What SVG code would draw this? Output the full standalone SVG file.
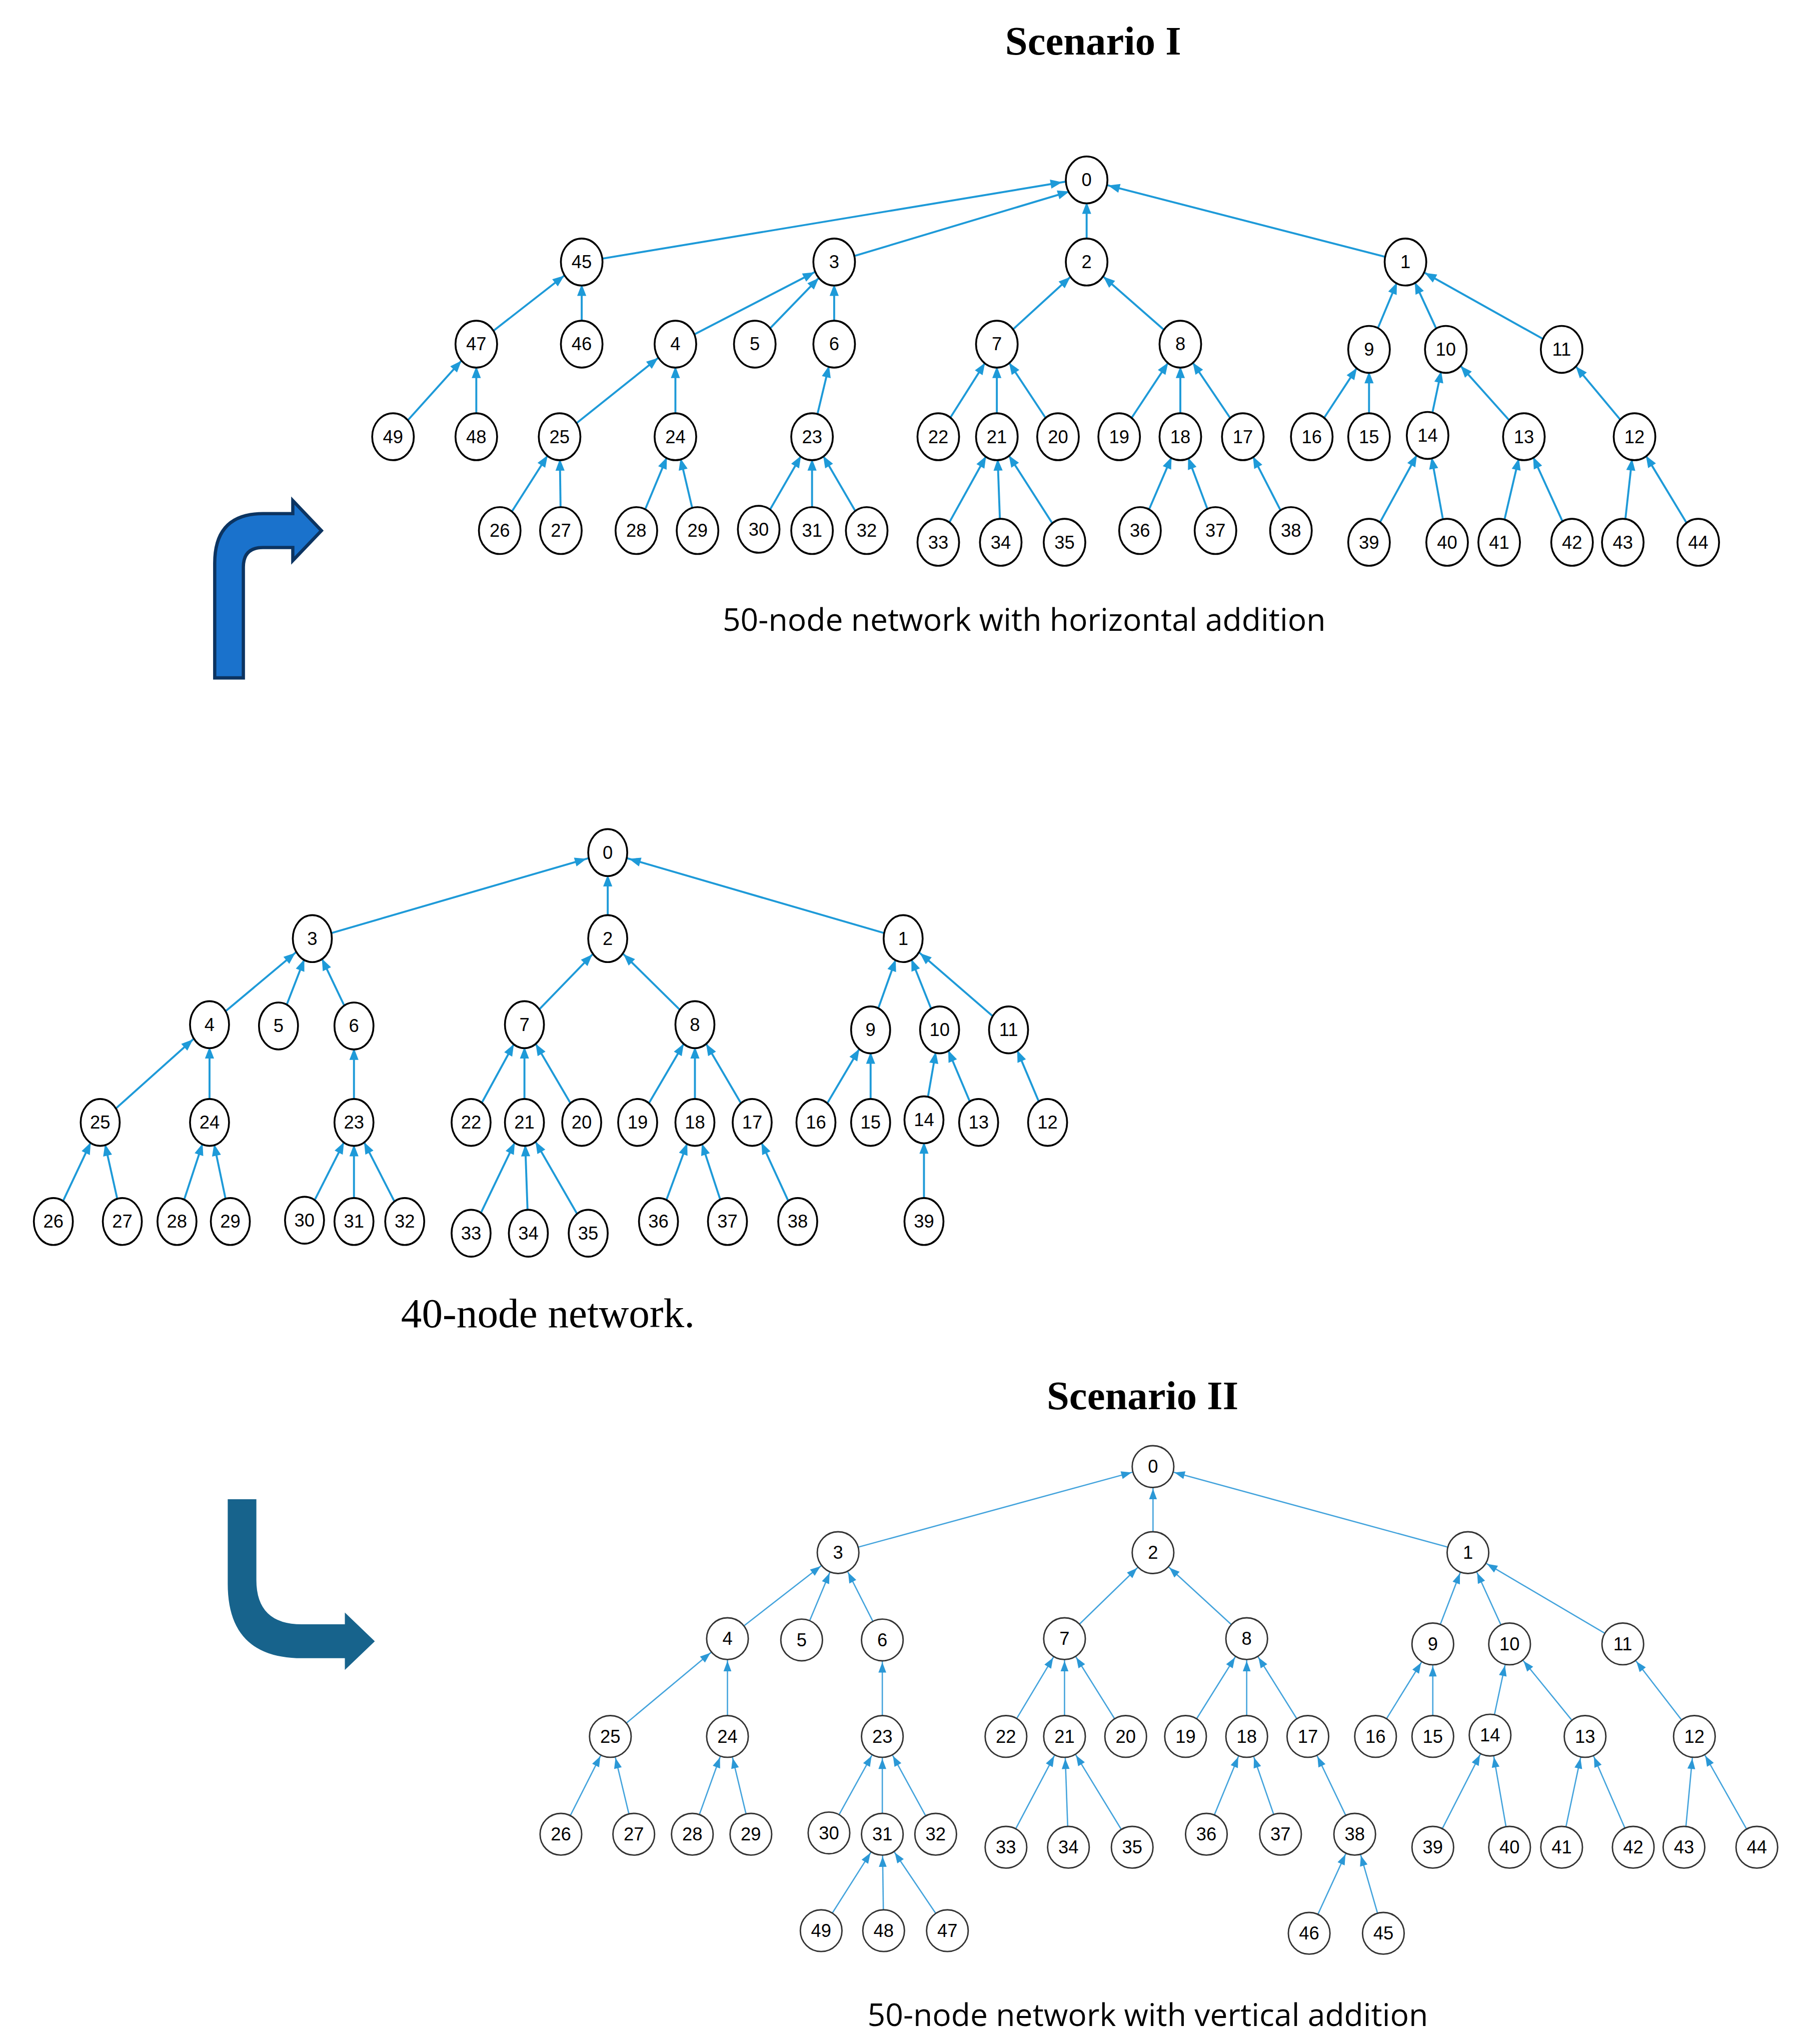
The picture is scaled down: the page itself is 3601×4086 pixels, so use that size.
<svg xmlns="http://www.w3.org/2000/svg" width="3601" height="4086" viewBox="0 0 3601 4086">
<style>
.n ellipse{fill:#fff;stroke:#000;stroke-width:1.4}
.n text{font-family:"Liberation Sans",Arial,sans-serif;font-size:14px;text-anchor:middle;dominant-baseline:central}
.b ellipse{fill:#fff;stroke:#333;stroke-width:1.1}
.e line{stroke:#1e9ad8;stroke-width:1.5;marker-end:url(#a)}
.f line{stroke:#43a3dc;stroke-width:1;marker-end:url(#a2)}
.t{font-family:"Liberation Serif","Times New Roman",serif;text-anchor:middle}
.c{font-family:"Open Sans","Liberation Sans",sans-serif;text-anchor:middle;font-size:24px}
</style>
<defs>
<marker id="a" markerUnits="userSpaceOnUse" markerWidth="30" markerHeight="10" refX="26" refY="3.5" orient="auto" overflow="visible"><path d="M0,0 L9,3.5 L0,7 z" fill="#1e9ad8"/></marker>
<marker id="a2" markerUnits="userSpaceOnUse" markerWidth="30" markerHeight="10" refX="25" refY="3" orient="auto" overflow="visible"><path d="M0,0 L8,3 L0,6 z" fill="#2b98d6"/></marker>
</defs>
<rect width="3601" height="4086" fill="#fff"/>
<g transform="scale(2.602,2.606)">
<text class="t" x="840" y="42" font-size="31" font-weight="bold">Scenario I</text>
<text class="c" x="787" y="484">50-node network with horizontal addition</text>
<text class="t" x="421" y="1018" font-size="32">40-node network.</text>
<text class="t" x="878" y="1081" font-size="31" font-weight="bold">Scenario II</text>
<text class="c" x="882" y="1554">50-node network with vertical addition</text>
<path id="arrow1" d="M165,520 L187,520 L187,435 Q187,420 202,420 L225,420 L225,430 L247,407 L225,384 L225,394 L202,394 Q165,394 165,432 Z" fill="#1a72cc" stroke="#0c3461" stroke-width="2.5"/>
<path id="arrow2" d="M175,1150 L197,1150 L197,1212 Q197,1246 232,1246 L265,1246 L265,1237 L288,1259 L265,1281 L265,1272 L232,1272 Q175,1272 175,1215 Z" fill="#17638c"/>

<g id="edges1" class="e">
<line x1="447" y1="201" x2="833" y2="137"/><line x1="641" y1="201" x2="838" y2="142"/><line x1="835" y1="201" x2="835" y2="138"/><line x1="1080" y1="201" x2="835" y2="138"/>
<line x1="366" y1="264" x2="447" y2="201"/><line x1="447" y1="264" x2="447" y2="201"/>
<line x1="302" y1="335" x2="366" y2="264"/><line x1="366" y1="335" x2="366" y2="264"/>
<line x1="519" y1="264" x2="641" y2="201"/><line x1="580" y1="264" x2="641" y2="201"/><line x1="641" y1="264" x2="641" y2="201"/>
<line x1="430" y1="335" x2="519" y2="264"/><line x1="519" y1="335" x2="519" y2="264"/><line x1="624" y1="335" x2="641" y2="264"/>
<line x1="384" y1="407" x2="430" y2="335"/><line x1="431" y1="407" x2="430" y2="335"/>
<line x1="489" y1="407" x2="519" y2="335"/><line x1="536" y1="407" x2="519" y2="335"/>
<line x1="583" y1="406" x2="624" y2="335"/><line x1="624" y1="407" x2="624" y2="335"/><line x1="666" y1="407" x2="624" y2="335"/>
<line x1="766" y1="264" x2="835" y2="201"/><line x1="907" y1="264" x2="835" y2="201"/>
<line x1="721" y1="335" x2="766" y2="264"/><line x1="766" y1="335" x2="766" y2="264"/><line x1="813" y1="335" x2="766" y2="264"/>
<line x1="721" y1="416" x2="766" y2="335"/><line x1="769" y1="416" x2="766" y2="335"/><line x1="818" y1="416" x2="766" y2="335"/>
<line x1="860" y1="335" x2="907" y2="264"/><line x1="907" y1="335" x2="907" y2="264"/><line x1="955" y1="335" x2="907" y2="264"/>
<line x1="876" y1="407" x2="907" y2="335"/><line x1="934" y1="407" x2="907" y2="335"/><line x1="992" y1="407" x2="955" y2="335"/>
<line x1="1052" y1="268" x2="1080" y2="201"/><line x1="1111" y1="268" x2="1080" y2="201"/><line x1="1200" y1="268" x2="1080" y2="201"/>
<line x1="1008" y1="335" x2="1052" y2="268"/><line x1="1052" y1="335" x2="1052" y2="268"/>
<line x1="1097" y1="334" x2="1111" y2="268"/><line x1="1171" y1="335" x2="1111" y2="268"/>
<line x1="1052" y1="416" x2="1097" y2="334"/><line x1="1112" y1="416" x2="1097" y2="334"/>
<line x1="1152" y1="416" x2="1171" y2="335"/><line x1="1208" y1="416" x2="1171" y2="335"/>
<line x1="1256" y1="335" x2="1200" y2="268"/>
<line x1="1247" y1="416" x2="1256" y2="335"/><line x1="1305" y1="416" x2="1256" y2="335"/>
</g>
<g id="edges2" class="e">
<line x1="240" y1="720" x2="467" y2="654"/><line x1="467" y1="720" x2="467" y2="654"/><line x1="694" y1="720" x2="467" y2="654"/>
<line x1="161" y1="786" x2="240" y2="720"/><line x1="214" y1="787" x2="240" y2="720"/><line x1="272" y1="787" x2="240" y2="720"/>
<line x1="77" y1="861" x2="161" y2="786"/><line x1="161" y1="861" x2="161" y2="786"/><line x1="272" y1="861" x2="272" y2="787"/>
<line x1="41" y1="937" x2="77" y2="861"/><line x1="94" y1="937" x2="77" y2="861"/>
<line x1="136" y1="937" x2="161" y2="861"/><line x1="177" y1="937" x2="161" y2="861"/>
<line x1="234" y1="936" x2="272" y2="861"/><line x1="272" y1="937" x2="272" y2="861"/><line x1="311" y1="937" x2="272" y2="861"/>
<line x1="403" y1="786" x2="467" y2="720"/><line x1="534" y1="786" x2="467" y2="720"/>
<line x1="362" y1="861" x2="403" y2="786"/><line x1="403" y1="861" x2="403" y2="786"/><line x1="447" y1="861" x2="403" y2="786"/>
<line x1="362" y1="946" x2="403" y2="861"/><line x1="406" y1="946" x2="403" y2="861"/><line x1="452" y1="946" x2="403" y2="861"/>
<line x1="490" y1="861" x2="534" y2="786"/><line x1="534" y1="861" x2="534" y2="786"/><line x1="578" y1="861" x2="534" y2="786"/>
<line x1="506" y1="937" x2="534" y2="861"/><line x1="559" y1="937" x2="534" y2="861"/><line x1="613" y1="937" x2="578" y2="861"/>
<line x1="669" y1="790" x2="694" y2="720"/><line x1="722" y1="790" x2="694" y2="720"/><line x1="775" y1="790" x2="694" y2="720"/>
<line x1="627" y1="861" x2="669" y2="790"/><line x1="669" y1="861" x2="669" y2="790"/>
<line x1="710" y1="859" x2="722" y2="790"/><line x1="752" y1="861" x2="722" y2="790"/>
<line x1="710" y1="937" x2="710" y2="859"/><line x1="805" y1="861" x2="775" y2="790"/>
</g>
<g id="edges3" class="f">
<line x1="644" y1="1191" x2="886" y2="1125"/><line x1="886" y1="1191" x2="886" y2="1125"/><line x1="1128" y1="1191" x2="886" y2="1125"/>
<line x1="559" y1="1257" x2="644" y2="1191"/><line x1="616" y1="1258" x2="644" y2="1191"/><line x1="678" y1="1258" x2="644" y2="1191"/>
<line x1="469" y1="1332" x2="559" y2="1257"/><line x1="559" y1="1332" x2="559" y2="1257"/><line x1="678" y1="1332" x2="678" y2="1258"/>
<line x1="431" y1="1407" x2="469" y2="1332"/><line x1="487" y1="1407" x2="469" y2="1332"/>
<line x1="532" y1="1407" x2="559" y2="1332"/><line x1="577" y1="1407" x2="559" y2="1332"/>
<line x1="637" y1="1406" x2="678" y2="1332"/><line x1="678" y1="1407" x2="678" y2="1332"/><line x1="719" y1="1407" x2="678" y2="1332"/>
<line x1="631" y1="1481" x2="678" y2="1407"/><line x1="679" y1="1481" x2="678" y2="1407"/><line x1="728" y1="1481" x2="678" y2="1407"/>
<line x1="818" y1="1257" x2="886" y2="1191"/><line x1="958" y1="1257" x2="886" y2="1191"/>
<line x1="773" y1="1332" x2="818" y2="1257"/><line x1="818" y1="1332" x2="818" y2="1257"/><line x1="865" y1="1332" x2="818" y2="1257"/>
<line x1="773" y1="1417" x2="818" y2="1332"/><line x1="821" y1="1417" x2="818" y2="1332"/><line x1="870" y1="1417" x2="818" y2="1332"/>
<line x1="911" y1="1332" x2="958" y2="1257"/><line x1="958" y1="1332" x2="958" y2="1257"/><line x1="1005" y1="1332" x2="958" y2="1257"/>
<line x1="927" y1="1407" x2="958" y2="1332"/><line x1="984" y1="1407" x2="958" y2="1332"/><line x1="1041" y1="1407" x2="1005" y2="1332"/>
<line x1="1006" y1="1483" x2="1041" y2="1407"/><line x1="1063" y1="1483" x2="1041" y2="1407"/>
<line x1="1101" y1="1261" x2="1128" y2="1191"/><line x1="1160" y1="1261" x2="1128" y2="1191"/><line x1="1247" y1="1261" x2="1128" y2="1191"/>
<line x1="1057" y1="1332" x2="1101" y2="1261"/><line x1="1101" y1="1332" x2="1101" y2="1261"/>
<line x1="1145" y1="1331" x2="1160" y2="1261"/><line x1="1218" y1="1332" x2="1160" y2="1261"/>
<line x1="1101" y1="1417" x2="1145" y2="1331"/><line x1="1160" y1="1417" x2="1145" y2="1331"/>
<line x1="1200" y1="1417" x2="1218" y2="1332"/><line x1="1255" y1="1417" x2="1218" y2="1332"/>
<line x1="1302" y1="1332" x2="1247" y2="1261"/>
<line x1="1294" y1="1417" x2="1302" y2="1332"/><line x1="1350" y1="1417" x2="1302" y2="1332"/>
</g>

<g id="tree1" class="n">
<g id="s1n0"><ellipse cx="835" cy="138" rx="16" ry="18"/><text x="835" y="138">0</text></g>
<g id="s1n45"><ellipse cx="447" cy="201" rx="16" ry="18"/><text x="447" y="201">45</text></g>
<g id="s1n3"><ellipse cx="641" cy="201" rx="16" ry="18"/><text x="641" y="201">3</text></g>
<g id="s1n2"><ellipse cx="835" cy="201" rx="16" ry="18"/><text x="835" y="201">2</text></g>
<g id="s1n1"><ellipse cx="1080" cy="201" rx="16" ry="18"/><text x="1080" y="201">1</text></g>
<g id="s1n47"><ellipse cx="366" cy="264" rx="16" ry="18"/><text x="366" y="264">47</text></g>
<g id="s1n46"><ellipse cx="447" cy="264" rx="16" ry="18"/><text x="447" y="264">46</text></g>
<g id="s1n4"><ellipse cx="519" cy="264" rx="16" ry="18"/><text x="519" y="264">4</text></g>
<g id="s1n5"><ellipse cx="580" cy="264" rx="16" ry="18"/><text x="580" y="264">5</text></g>
<g id="s1n6"><ellipse cx="641" cy="264" rx="16" ry="18"/><text x="641" y="264">6</text></g>
<g id="s1n7"><ellipse cx="766" cy="264" rx="16" ry="18"/><text x="766" y="264">7</text></g>
<g id="s1n8"><ellipse cx="907" cy="264" rx="16" ry="18"/><text x="907" y="264">8</text></g>
<g id="s1n9"><ellipse cx="1052" cy="268" rx="16" ry="18"/><text x="1052" y="268">9</text></g>
<g id="s1n10"><ellipse cx="1111" cy="268" rx="16" ry="18"/><text x="1111" y="268">10</text></g>
<g id="s1n11"><ellipse cx="1200" cy="268" rx="16" ry="18"/><text x="1200" y="268">11</text></g>
<g id="s1n49"><ellipse cx="302" cy="335" rx="16" ry="18"/><text x="302" y="335">49</text></g>
<g id="s1n48"><ellipse cx="366" cy="335" rx="16" ry="18"/><text x="366" y="335">48</text></g>
<g id="s1n25"><ellipse cx="430" cy="335" rx="16" ry="18"/><text x="430" y="335">25</text></g>
<g id="s1n24"><ellipse cx="519" cy="335" rx="16" ry="18"/><text x="519" y="335">24</text></g>
<g id="s1n23"><ellipse cx="624" cy="335" rx="16" ry="18"/><text x="624" y="335">23</text></g>
<g id="s1n22"><ellipse cx="721" cy="335" rx="16" ry="18"/><text x="721" y="335">22</text></g>
<g id="s1n21"><ellipse cx="766" cy="335" rx="16" ry="18"/><text x="766" y="335">21</text></g>
<g id="s1n20"><ellipse cx="813" cy="335" rx="16" ry="18"/><text x="813" y="335">20</text></g>
<g id="s1n19"><ellipse cx="860" cy="335" rx="16" ry="18"/><text x="860" y="335">19</text></g>
<g id="s1n18"><ellipse cx="907" cy="335" rx="16" ry="18"/><text x="907" y="335">18</text></g>
<g id="s1n17"><ellipse cx="955" cy="335" rx="16" ry="18"/><text x="955" y="335">17</text></g>
<g id="s1n16"><ellipse cx="1008" cy="335" rx="16" ry="18"/><text x="1008" y="335">16</text></g>
<g id="s1n15"><ellipse cx="1052" cy="335" rx="16" ry="18"/><text x="1052" y="335">15</text></g>
<g id="s1n14"><ellipse cx="1097" cy="334" rx="16" ry="18"/><text x="1097" y="334">14</text></g>
<g id="s1n13"><ellipse cx="1171" cy="335" rx="16" ry="18"/><text x="1171" y="335">13</text></g>
<g id="s1n12"><ellipse cx="1256" cy="335" rx="16" ry="18"/><text x="1256" y="335">12</text></g>
<g id="s1n26"><ellipse cx="384" cy="407" rx="16" ry="18"/><text x="384" y="407">26</text></g>
<g id="s1n27"><ellipse cx="431" cy="407" rx="16" ry="18"/><text x="431" y="407">27</text></g>
<g id="s1n28"><ellipse cx="489" cy="407" rx="16" ry="18"/><text x="489" y="407">28</text></g>
<g id="s1n29"><ellipse cx="536" cy="407" rx="16" ry="18"/><text x="536" y="407">29</text></g>
<g id="s1n30"><ellipse cx="583" cy="406" rx="16" ry="18"/><text x="583" y="406">30</text></g>
<g id="s1n31"><ellipse cx="624" cy="407" rx="16" ry="18"/><text x="624" y="407">31</text></g>
<g id="s1n32"><ellipse cx="666" cy="407" rx="16" ry="18"/><text x="666" y="407">32</text></g>
<g id="s1n33"><ellipse cx="721" cy="416" rx="16" ry="18"/><text x="721" y="416">33</text></g>
<g id="s1n34"><ellipse cx="769" cy="416" rx="16" ry="18"/><text x="769" y="416">34</text></g>
<g id="s1n35"><ellipse cx="818" cy="416" rx="16" ry="18"/><text x="818" y="416">35</text></g>
<g id="s1n36"><ellipse cx="876" cy="407" rx="16" ry="18"/><text x="876" y="407">36</text></g>
<g id="s1n37"><ellipse cx="934" cy="407" rx="16" ry="18"/><text x="934" y="407">37</text></g>
<g id="s1n38"><ellipse cx="992" cy="407" rx="16" ry="18"/><text x="992" y="407">38</text></g>
<g id="s1n39"><ellipse cx="1052" cy="416" rx="16" ry="18"/><text x="1052" y="416">39</text></g>
<g id="s1n40"><ellipse cx="1112" cy="416" rx="16" ry="18"/><text x="1112" y="416">40</text></g>
<g id="s1n41"><ellipse cx="1152" cy="416" rx="16" ry="18"/><text x="1152" y="416">41</text></g>
<g id="s1n42"><ellipse cx="1208" cy="416" rx="16" ry="18"/><text x="1208" y="416">42</text></g>
<g id="s1n43"><ellipse cx="1247" cy="416" rx="16" ry="18"/><text x="1247" y="416">43</text></g>
<g id="s1n44"><ellipse cx="1305" cy="416" rx="16" ry="18"/><text x="1305" y="416">44</text></g>
</g>

<g id="tree2" class="n">
<g id="m0"><ellipse cx="467" cy="654" rx="15" ry="18"/><text x="467" y="654">0</text></g>
<g id="m3"><ellipse cx="240" cy="720" rx="15" ry="18"/><text x="240" y="720">3</text></g>
<g id="m2"><ellipse cx="467" cy="720" rx="15" ry="18"/><text x="467" y="720">2</text></g>
<g id="m1"><ellipse cx="694" cy="720" rx="15" ry="18"/><text x="694" y="720">1</text></g>
<g id="m4"><ellipse cx="161" cy="786" rx="15" ry="18"/><text x="161" y="786">4</text></g>
<g id="m5"><ellipse cx="214" cy="787" rx="15" ry="18"/><text x="214" y="787">5</text></g>
<g id="m6"><ellipse cx="272" cy="787" rx="15" ry="18"/><text x="272" y="787">6</text></g>
<g id="m7"><ellipse cx="403" cy="786" rx="15" ry="18"/><text x="403" y="786">7</text></g>
<g id="m8"><ellipse cx="534" cy="786" rx="15" ry="18"/><text x="534" y="786">8</text></g>
<g id="m9"><ellipse cx="669" cy="790" rx="15" ry="18"/><text x="669" y="790">9</text></g>
<g id="m10"><ellipse cx="722" cy="790" rx="15" ry="18"/><text x="722" y="790">10</text></g>
<g id="m11"><ellipse cx="775" cy="790" rx="15" ry="18"/><text x="775" y="790">11</text></g>
<g id="m25"><ellipse cx="77" cy="861" rx="15" ry="18"/><text x="77" y="861">25</text></g>
<g id="m24"><ellipse cx="161" cy="861" rx="15" ry="18"/><text x="161" y="861">24</text></g>
<g id="m23"><ellipse cx="272" cy="861" rx="15" ry="18"/><text x="272" y="861">23</text></g>
<g id="m22"><ellipse cx="362" cy="861" rx="15" ry="18"/><text x="362" y="861">22</text></g>
<g id="m21"><ellipse cx="403" cy="861" rx="15" ry="18"/><text x="403" y="861">21</text></g>
<g id="m20"><ellipse cx="447" cy="861" rx="15" ry="18"/><text x="447" y="861">20</text></g>
<g id="m19"><ellipse cx="490" cy="861" rx="15" ry="18"/><text x="490" y="861">19</text></g>
<g id="m18"><ellipse cx="534" cy="861" rx="15" ry="18"/><text x="534" y="861">18</text></g>
<g id="m17"><ellipse cx="578" cy="861" rx="15" ry="18"/><text x="578" y="861">17</text></g>
<g id="m16"><ellipse cx="627" cy="861" rx="15" ry="18"/><text x="627" y="861">16</text></g>
<g id="m15"><ellipse cx="669" cy="861" rx="15" ry="18"/><text x="669" y="861">15</text></g>
<g id="m14"><ellipse cx="710" cy="859" rx="15" ry="18"/><text x="710" y="859">14</text></g>
<g id="m13"><ellipse cx="752" cy="861" rx="15" ry="18"/><text x="752" y="861">13</text></g>
<g id="m12"><ellipse cx="805" cy="861" rx="15" ry="18"/><text x="805" y="861">12</text></g>
<g id="m26"><ellipse cx="41" cy="937" rx="15" ry="18"/><text x="41" y="937">26</text></g>
<g id="m27"><ellipse cx="94" cy="937" rx="15" ry="18"/><text x="94" y="937">27</text></g>
<g id="m28"><ellipse cx="136" cy="937" rx="15" ry="18"/><text x="136" y="937">28</text></g>
<g id="m29"><ellipse cx="177" cy="937" rx="15" ry="18"/><text x="177" y="937">29</text></g>
<g id="m30"><ellipse cx="234" cy="936" rx="15" ry="18"/><text x="234" y="936">30</text></g>
<g id="m31"><ellipse cx="272" cy="937" rx="15" ry="18"/><text x="272" y="937">31</text></g>
<g id="m32"><ellipse cx="311" cy="937" rx="15" ry="18"/><text x="311" y="937">32</text></g>
<g id="m33"><ellipse cx="362" cy="946" rx="15" ry="18"/><text x="362" y="946">33</text></g>
<g id="m34"><ellipse cx="406" cy="946" rx="15" ry="18"/><text x="406" y="946">34</text></g>
<g id="m35"><ellipse cx="452" cy="946" rx="15" ry="18"/><text x="452" y="946">35</text></g>
<g id="m36"><ellipse cx="506" cy="937" rx="15" ry="18"/><text x="506" y="937">36</text></g>
<g id="m37"><ellipse cx="559" cy="937" rx="15" ry="18"/><text x="559" y="937">37</text></g>
<g id="m38"><ellipse cx="613" cy="937" rx="15" ry="18"/><text x="613" y="937">38</text></g>
<g id="m39"><ellipse cx="710" cy="937" rx="15" ry="18"/><text x="710" y="937">39</text></g>
</g>

<g id="tree3" class="n b">
<g id="v0"><ellipse cx="886" cy="1125" rx="16" ry="16"/><text x="886" y="1125">0</text></g>
<g id="v3"><ellipse cx="644" cy="1191" rx="16" ry="16"/><text x="644" y="1191">3</text></g>
<g id="v2"><ellipse cx="886" cy="1191" rx="16" ry="16"/><text x="886" y="1191">2</text></g>
<g id="v1"><ellipse cx="1128" cy="1191" rx="16" ry="16"/><text x="1128" y="1191">1</text></g>
<g id="v4"><ellipse cx="559" cy="1257" rx="16" ry="16"/><text x="559" y="1257">4</text></g>
<g id="v5"><ellipse cx="616" cy="1258" rx="16" ry="16"/><text x="616" y="1258">5</text></g>
<g id="v6"><ellipse cx="678" cy="1258" rx="16" ry="16"/><text x="678" y="1258">6</text></g>
<g id="v7"><ellipse cx="818" cy="1257" rx="16" ry="16"/><text x="818" y="1257">7</text></g>
<g id="v8"><ellipse cx="958" cy="1257" rx="16" ry="16"/><text x="958" y="1257">8</text></g>
<g id="v9"><ellipse cx="1101" cy="1261" rx="16" ry="16"/><text x="1101" y="1261">9</text></g>
<g id="v10"><ellipse cx="1160" cy="1261" rx="16" ry="16"/><text x="1160" y="1261">10</text></g>
<g id="v11"><ellipse cx="1247" cy="1261" rx="16" ry="16"/><text x="1247" y="1261">11</text></g>
<g id="v25"><ellipse cx="469" cy="1332" rx="16" ry="16"/><text x="469" y="1332">25</text></g>
<g id="v24"><ellipse cx="559" cy="1332" rx="16" ry="16"/><text x="559" y="1332">24</text></g>
<g id="v23"><ellipse cx="678" cy="1332" rx="16" ry="16"/><text x="678" y="1332">23</text></g>
<g id="v22"><ellipse cx="773" cy="1332" rx="16" ry="16"/><text x="773" y="1332">22</text></g>
<g id="v21"><ellipse cx="818" cy="1332" rx="16" ry="16"/><text x="818" y="1332">21</text></g>
<g id="v20"><ellipse cx="865" cy="1332" rx="16" ry="16"/><text x="865" y="1332">20</text></g>
<g id="v19"><ellipse cx="911" cy="1332" rx="16" ry="16"/><text x="911" y="1332">19</text></g>
<g id="v18"><ellipse cx="958" cy="1332" rx="16" ry="16"/><text x="958" y="1332">18</text></g>
<g id="v17"><ellipse cx="1005" cy="1332" rx="16" ry="16"/><text x="1005" y="1332">17</text></g>
<g id="v16"><ellipse cx="1057" cy="1332" rx="16" ry="16"/><text x="1057" y="1332">16</text></g>
<g id="v15"><ellipse cx="1101" cy="1332" rx="16" ry="16"/><text x="1101" y="1332">15</text></g>
<g id="v14"><ellipse cx="1145" cy="1331" rx="16" ry="16"/><text x="1145" y="1331">14</text></g>
<g id="v13"><ellipse cx="1218" cy="1332" rx="16" ry="16"/><text x="1218" y="1332">13</text></g>
<g id="v12"><ellipse cx="1302" cy="1332" rx="16" ry="16"/><text x="1302" y="1332">12</text></g>
<g id="v26"><ellipse cx="431" cy="1407" rx="16" ry="16"/><text x="431" y="1407">26</text></g>
<g id="v27"><ellipse cx="487" cy="1407" rx="16" ry="16"/><text x="487" y="1407">27</text></g>
<g id="v28"><ellipse cx="532" cy="1407" rx="16" ry="16"/><text x="532" y="1407">28</text></g>
<g id="v29"><ellipse cx="577" cy="1407" rx="16" ry="16"/><text x="577" y="1407">29</text></g>
<g id="v30"><ellipse cx="637" cy="1406" rx="16" ry="16"/><text x="637" y="1406">30</text></g>
<g id="v31"><ellipse cx="678" cy="1407" rx="16" ry="16"/><text x="678" y="1407">31</text></g>
<g id="v32"><ellipse cx="719" cy="1407" rx="16" ry="16"/><text x="719" y="1407">32</text></g>
<g id="v33"><ellipse cx="773" cy="1417" rx="16" ry="16"/><text x="773" y="1417">33</text></g>
<g id="v34"><ellipse cx="821" cy="1417" rx="16" ry="16"/><text x="821" y="1417">34</text></g>
<g id="v35"><ellipse cx="870" cy="1417" rx="16" ry="16"/><text x="870" y="1417">35</text></g>
<g id="v36"><ellipse cx="927" cy="1407" rx="16" ry="16"/><text x="927" y="1407">36</text></g>
<g id="v37"><ellipse cx="984" cy="1407" rx="16" ry="16"/><text x="984" y="1407">37</text></g>
<g id="v38"><ellipse cx="1041" cy="1407" rx="16" ry="16"/><text x="1041" y="1407">38</text></g>
<g id="v39"><ellipse cx="1101" cy="1417" rx="16" ry="16"/><text x="1101" y="1417">39</text></g>
<g id="v40"><ellipse cx="1160" cy="1417" rx="16" ry="16"/><text x="1160" y="1417">40</text></g>
<g id="v41"><ellipse cx="1200" cy="1417" rx="16" ry="16"/><text x="1200" y="1417">41</text></g>
<g id="v42"><ellipse cx="1255" cy="1417" rx="16" ry="16"/><text x="1255" y="1417">42</text></g>
<g id="v43"><ellipse cx="1294" cy="1417" rx="16" ry="16"/><text x="1294" y="1417">43</text></g>
<g id="v44"><ellipse cx="1350" cy="1417" rx="16" ry="16"/><text x="1350" y="1417">44</text></g>
<g id="v49"><ellipse cx="631" cy="1481" rx="16" ry="16"/><text x="631" y="1481">49</text></g>
<g id="v48"><ellipse cx="679" cy="1481" rx="16" ry="16"/><text x="679" y="1481">48</text></g>
<g id="v47"><ellipse cx="728" cy="1481" rx="16" ry="16"/><text x="728" y="1481">47</text></g>
<g id="v46"><ellipse cx="1006" cy="1483" rx="16" ry="16"/><text x="1006" y="1483">46</text></g>
<g id="v45"><ellipse cx="1063" cy="1483" rx="16" ry="16"/><text x="1063" y="1483">45</text></g>
</g>
</g>
</svg>
